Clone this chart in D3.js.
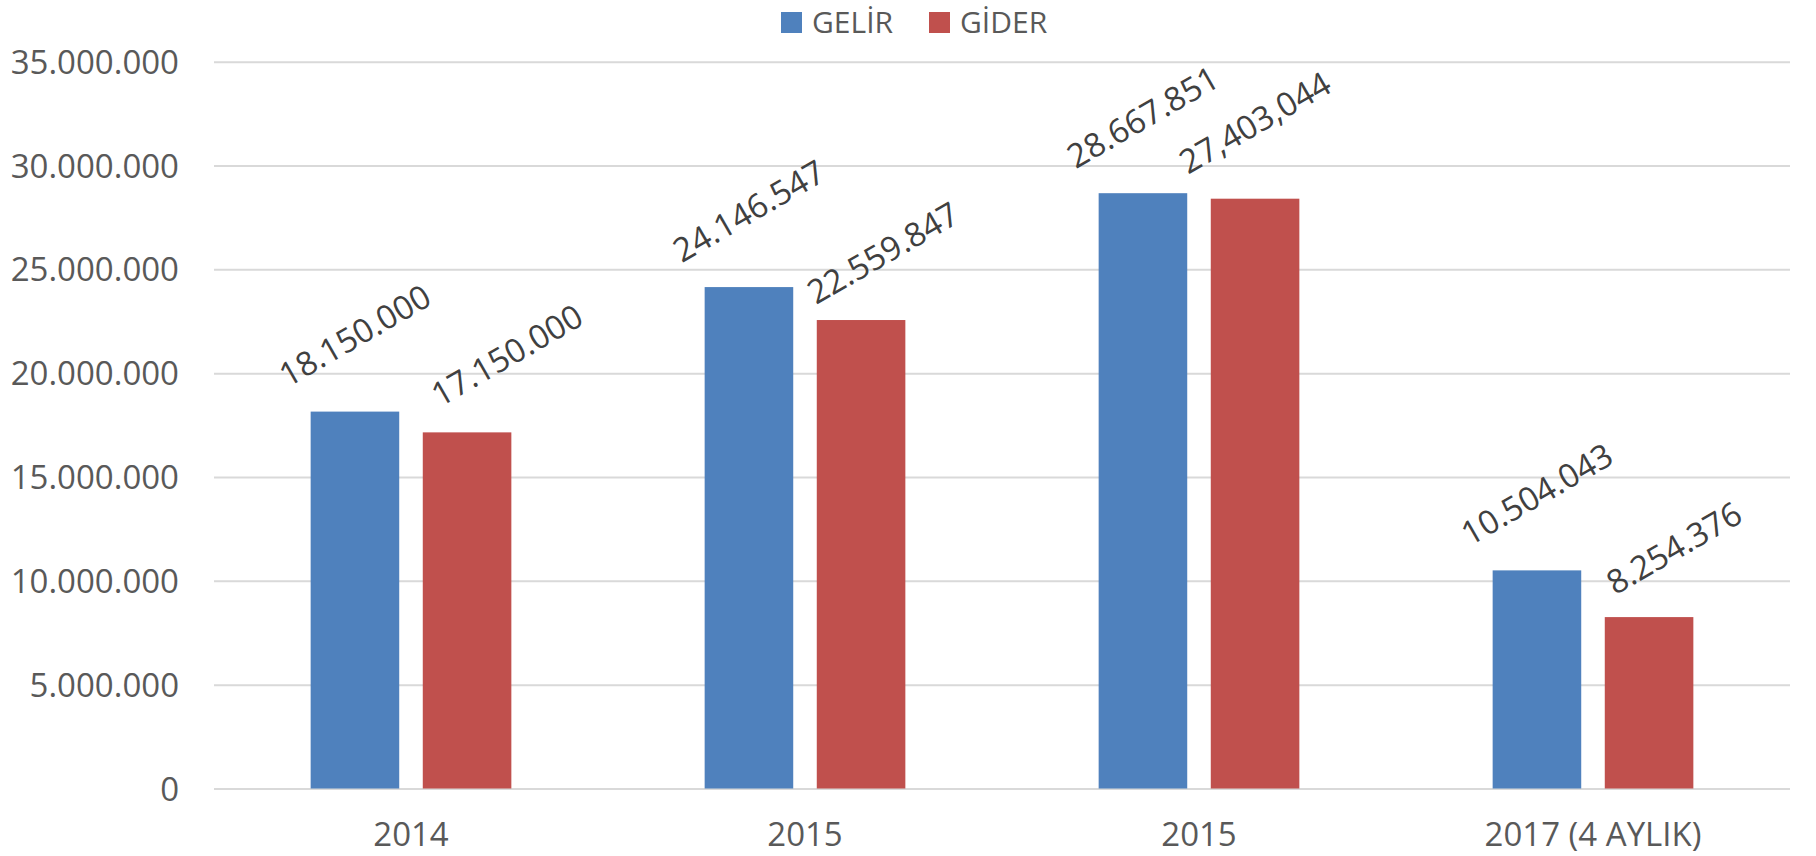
<!DOCTYPE html>
<html lang="tr">
<head>
	<meta charset="UTF-8">
	<title>Gelir / Gider</title>
	<style>
		body { margin: 0; background: #fff; }
		text { font-family: "Open Sans", "Noto Sans", sans-serif; }
	</style>
</head>
<body>

	<script src="https://d3js.org/d3.v7.min.js" charset="utf-8"></script>

	<script type="text/javascript">

		var categories = [ "2014", "2015", "2015", "2017 (4 AYLIK)" ];
		var seriesNames = [ "GELİR", "GİDER" ];

		var gelir = [ 18150000, 24146547, 28667851, 10504043 ],
			gider = [ 17150000, 22559847, 28403044, 8254376 ];

		// labels as typed in the source sheet (one uses commas)
		var gelirLabels = [ "18.150.000", "24.146.547", "28.667.851", "10.504.043" ],
			giderLabels = [ "17.150.000", "22.559.847", "27,403,044", "8.254.376" ];

		var yTicks = [ 0, 5000000, 10000000, 15000000, 20000000, 25000000, 30000000, 35000000 ];

		var colors = [ "#4F81BD", "#C0504D" ];

		// some labels were dragged by hand, offsets in px
		var labelNudge = [
			[ [0, 0], [0, 0], [0, 0], [0, 0] ],
			[ [40, -1], [22, 9], [0, 0], [25, 7] ]
		];

		var chartWidth = 1816,
			chartHeight = 856,
			plotLeft = 214,
			plotRight = 1790,
			plotTop = 61.7,
			plotBottom = 788.5;

		var svg = d3.select( "body" )
					.append( "svg" )
					.attr( "width", chartWidth )
					.attr( "height", chartHeight );

		var trFormat = d3.formatLocale({ decimal: ",", thousands: ".", grouping: [3], currency: ["", ""] }).format( ",d" );

		var x0 = d3.scaleBand()
					.domain( d3.range( categories.length ) )
					.range( [ plotLeft, plotRight ] )
					.padding( 0 );

		var x1 = d3.scaleBand()
					.domain( d3.range( seriesNames.length ) )
					.range( [ 0, x0.bandwidth() ] )
					.paddingInner( 0.21 )
					.paddingOuter( 0.862 );

		var y = d3.scaleLinear()
					.domain( [ 0, 35000000 ] )
					.range( [ plotBottom, plotTop ] );

		// gridlines + y labels
		var yAxis = svg.append( "g" )
					.attr( "transform", "translate(" + plotLeft + ",0)" )
					.call( d3.axisLeft( y )
						.tickValues( yTicks )
						.tickFormat( trFormat )
						.tickSize( -(plotRight - plotLeft) )
						.tickPadding( 35 ) );

		yAxis.select( ".domain" ).remove();
		yAxis.selectAll( "line" ).attr( "stroke", "#d9d9d9" ).attr( "stroke-width", 2 );
		yAxis.selectAll( "text" )
			.attr( "fill", "#595959" )
			.style( "font-size", "33px" )
			.attr( "dy", "0.35em" );

		// x labels
		var xAxis = svg.append( "g" )
					.attr( "transform", "translate(0," + plotBottom + ")" )
					.call( d3.axisBottom( x0 )
						.tickFormat( function(i) { return categories[i]; } )
						.tickSize( 0 )
						.tickPadding( 34 ) );

		xAxis.select( ".domain" ).remove();
		xAxis.selectAll( "text" )
			.attr( "fill", "#595959" )
			.style( "font-size", "33px" );

		var series = [ gelir, gider ],
			labels = [ gelirLabels, giderLabels ];

		series.forEach( function( values, s ) {

			var g = svg.append( "g" );

			g.selectAll( "rect" )
				.data( values )
				.enter()
				.append( "rect" )
				.attr( "x", function(d, i) { return x0(i) + x1(s); } )
				.attr( "y", function(d) { return y(d); } )
				.attr( "width", x1.bandwidth() )
				.attr( "height", function(d) { return plotBottom - y(d); } )
				.attr( "fill", colors[s] );

			g.selectAll( "text" )
				.data( values )
				.enter()
				.append( "text" )
				.attr( "transform", function(d, i) {
					var cx = x0(i) + x1(s) + x1.bandwidth() / 2 + labelNudge[s][i][0],
						cy = y(d) - 76 + labelNudge[s][i][1];
					return "translate(" + cx + "," + cy + ") rotate(-30)";
				})
				.attr( "text-anchor", "middle" )
				.attr( "dy", "0.35em" )
				.attr( "fill", "#404040" )
				.style( "font-size", "33px" )
				.text( function(d, i) { return labels[s][i]; } );
		});

		// legend
		var legendX = [ 781, 929 ];

		var legend = svg.append( "g" )
					.selectAll( "g" )
					.data( seriesNames )
					.enter()
					.append( "g" )
					.attr( "transform", function(d, i) { return "translate(" + legendX[i] + ",12)"; } );

		legend.append( "rect" )
			.attr( "width", 21 )
			.attr( "height", 21 )
			.attr( "fill", function(d, i) { return colors[i]; } );

		legend.append( "text" )
			.attr( "x", 31 )
			.attr( "y", 21 )
			.attr( "fill", "#595959" )
			.style( "font-size", "30px" )
			.text( function(d) { return d; } );

	</script>
</body>
</html>
